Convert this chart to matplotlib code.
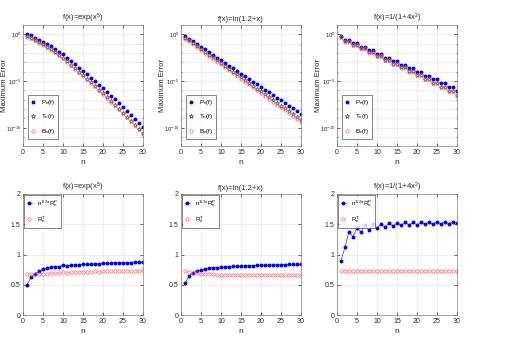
import numpy as np
import matplotlib
matplotlib.use('Agg')
import matplotlib.pyplot as plt
from matplotlib.ticker import FixedLocator, NullFormatter

plt.rcParams['font.family'] = ['Liberation Sans', 'DejaVu Sans']
plt.rcParams['mathtext.default'] = 'regular'
plt.rcParams['font.size'] = 5.5

n = np.arange(1, 31)

# top row: log10 of maximum error
exp_P = [0.02, -0.12, -0.35, -0.57, -0.80, -1.05, -1.30, -1.55, -1.85, -2.15,
         -2.50, -2.85, -3.20, -3.56, -3.92, -4.28, -4.65, -5.02, -5.40, -5.78,
         -6.17, -6.57, -6.97, -7.37, -7.78, -8.19, -8.60, -9.02, -9.44, -9.87]
exp_T = [-0.18, -0.34, -0.58, -0.82, -1.07, -1.34, -1.60, -1.87, -2.19, -2.51,
         -2.87, -3.24, -3.61, -3.98, -4.36, -4.74, -5.13, -5.51, -5.91, -6.31,
         -6.71, -7.13, -7.55, -7.97, -8.39, -8.82, -9.25, -9.68, -10.12, -10.57]
exp_B = [-0.26, -0.41, -0.64, -0.88, -1.13, -1.40, -1.66, -1.93, -2.25, -2.57,
         -2.93, -3.30, -3.67, -4.04, -4.42, -4.80, -5.19, -5.57, -5.97, -6.37,
         -6.77, -7.19, -7.61, -8.03, -8.45, -8.88, -9.31, -9.74, -10.18, -10.63]

ln_P = [-0.18, -0.47, -0.75, -1.04, -1.33, -1.62, -1.90, -2.19, -2.48, -2.76,
        -3.05, -3.34, -3.62, -3.91, -4.20, -4.49, -4.77, -5.06, -5.35, -5.63,
        -5.92, -6.21, -6.49, -6.78, -7.07, -7.36, -7.64, -7.93, -8.22, -8.50]
ln_T = [-0.35, -0.65, -0.96, -1.26, -1.56, -1.87, -2.17, -2.47, -2.78, -3.08,
        -3.38, -3.69, -3.99, -4.29, -4.60, -4.90, -5.20, -5.51, -5.81, -6.11,
        -6.42, -6.72, -7.02, -7.33, -7.63, -7.93, -8.24, -8.54, -8.84, -9.15]
ln_B = [-0.45, -0.76, -1.06, -1.37, -1.68, -1.99, -2.29, -2.60, -2.91, -3.21,
        -3.52, -3.83, -4.13, -4.44, -4.75, -5.06, -5.36, -5.67, -5.98, -6.28,
        -6.59, -6.90, -7.20, -7.51, -7.82, -8.13, -8.43, -8.74, -9.05, -9.35]

ru_P = [-0.14, -0.57, -0.57, -0.96, -0.96, -1.34, -1.34, -1.72, -1.72, -2.10,
        -2.10, -2.49, -2.49, -2.87, -2.87, -3.26, -3.26, -3.64, -3.64, -4.03,
        -4.03, -4.42, -4.42, -4.82, -4.82, -5.22, -5.22, -5.62, -5.62, -6.05]
ru_T = [-0.25, -0.71, -0.71, -1.12, -1.12, -1.51, -1.51, -1.91, -1.91, -2.31,
        -2.31, -2.72, -2.72, -3.12, -3.12, -3.53, -3.53, -3.93, -3.93, -4.34,
        -4.34, -4.75, -4.75, -5.17, -5.17, -5.59, -5.59, -6.01, -6.01, -6.50]
ru_B = [-0.30, -0.77, -0.77, -1.18, -1.18, -1.57, -1.57, -1.97, -1.97, -2.37,
        -2.37, -2.78, -2.78, -3.18, -3.18, -3.59, -3.59, -3.99, -3.99, -4.40,
        -4.40, -4.81, -4.81, -5.23, -5.23, -5.65, -5.65, -6.07, -6.07, -6.58]

# bottom row: ratios
exp_RP = [0.50, 0.62, 0.68, 0.72, 0.76, 0.77, 0.79, 0.80, 0.80, 0.82,
          0.815, 0.82, 0.83, 0.826, 0.84, 0.838, 0.84, 0.85, 0.845, 0.855,
          0.853, 0.855, 0.865, 0.86, 0.865, 0.865, 0.866, 0.875, 0.87, 0.872]
exp_RT = [0.68, 0.675, 0.68, 0.68, 0.685, 0.685, 0.69, 0.69, 0.695, 0.71,
          0.70, 0.705, 0.71, 0.71, 0.715, 0.71, 0.715, 0.72, 0.715, 0.72,
          0.72, 0.725, 0.72, 0.725, 0.725, 0.725, 0.73, 0.735, 0.735, 0.74]
ln_RP = [0.53, 0.64, 0.70, 0.725, 0.74, 0.76, 0.77, 0.78, 0.785, 0.79,
         0.795, 0.80, 0.803, 0.806, 0.81, 0.812, 0.815, 0.818, 0.82, 0.822,
         0.824, 0.826, 0.828, 0.83, 0.832, 0.834, 0.835, 0.837, 0.838, 0.84]
ln_RT = [0.73, 0.715, 0.70, 0.69, 0.68, 0.675, 0.672, 0.67, 0.668, 0.667,
         0.666, 0.665, 0.664, 0.663, 0.662, 0.662, 0.661, 0.66, 0.66, 0.659,
         0.659, 0.658, 0.658, 0.657, 0.657, 0.656, 0.656, 0.656, 0.655, 0.655]
ru_RP = [0.90, 1.12, 1.38, 1.29, 1.44, 1.37, 1.48, 1.40, 1.50, 1.43,
         1.51, 1.45, 1.52, 1.47, 1.52, 1.48, 1.53, 1.49, 1.53, 1.49,
         1.53, 1.50, 1.53, 1.51, 1.54, 1.51, 1.54, 1.51, 1.54, 1.52]
ru_RT = [0.73] * 30

titles = ['f(x)=exp(x$^5$)', 'f(x)=ln(1.2+x)', 'f(x)=1/(1+4x$^2$)']
top_data = [(exp_P, exp_T, exp_B), (ln_P, ln_T, ln_B), (ru_P, ru_T, ru_B)]
bot_data = [(exp_RP, exp_RT), (ln_RP, ln_RT), (ru_RP, ru_RT)]

W, H = 510, 354
lefts = [23, 181, 337]
aw = 120
top_row = (25, 146.5)
bot_row = (194, 315)

fig = plt.figure(figsize=(W / 100, H / 100), dpi=100)

frame_col = '#262626'
grid_col = '#e6e6e6'
red = '#ff6060'


def style(ax):
    ax.tick_params(direction='in', length=2, width=0.5, top=True, right=True,
                   labelsize=5, pad=2, colors=frame_col, which='both')
    for s in ax.spines.values():
        s.set_linewidth(0.5)
        s.set_color('#808080')
    ax.set_xlim(0, 30)
    ax.set_xticks([0, 5, 10, 15, 20, 25, 30])
    ax.set_xlabel('n', fontsize=6, labelpad=2, color=frame_col)
    ax.set_axisbelow(True)


def legend(ax, loc, anchor):
    leg = ax.legend(loc=loc, fontsize=4.5, handlelength=0.8, handletextpad=0.8,
                    labelspacing=0.9, borderpad=0.5, borderaxespad=0,
                    fancybox=False, bbox_to_anchor=anchor)
    leg.get_frame().set_edgecolor('#262626')
    leg.get_frame().set_linewidth(0.5)


for i in range(3):
    # top row
    t, b = top_row
    ax = fig.add_axes([lefts[i] / W, 1 - b / H, aw / W, (b - t) / H])
    P, T, B = (10.0 ** np.array(v) for v in top_data[i])
    ax.semilogy(n, P, '.', color='#0000ff', ms=3.6, label='P$_n$(f)')
    ax.semilogy(n, T, '*', mfc='none', mec='#505050', ms=3.4, mew=0.5, label='T$_n$(f)')
    ax.semilogy(n, B, 'o', mfc='none', mec=red, ms=2.4, mew=0.5, label='B$_n$(f)')
    ax.set_ylim(1e-12, 1e1)
    ax.set_yticks([1e-10, 1e-5, 1e0])
    ax.yaxis.set_minor_locator(FixedLocator([10.0 ** k for k in range(-12, 2)]))
    ax.yaxis.set_minor_formatter(NullFormatter())
    ax.grid(True, which='both', color=grid_col, lw=0.5)
    style(ax)
    ax.tick_params(axis='y', labelsize=4.3, pad=1)
    ax.tick_params(which='minor', length=1)
    ax.set_title(titles[i], fontsize=5.5, pad=3, color=frame_col)
    ax.set_ylabel('Maximum Error', fontsize=5.6, color=frame_col)
    ax.yaxis.set_label_coords(-0.125, 0.5)
    legend(ax, 'lower left', (0.04, 0.06))

    # bottom row
    t, b = bot_row
    ax = fig.add_axes([lefts[i] / W, 1 - b / H, aw / W, (b - t) / H])
    RP, RT = bot_data[i]
    ax.plot(n, RP, '.-', color='#0000ff', ms=3.6, lw=0.4, label='$n^{1/2}{*}R_n^P$')
    ax.plot(n, RT, 'o', mfc='none', mec=red, ms=2.4, mew=0.5, label='$R_n^T$')
    ax.set_ylim(0, 2)
    ax.set_yticks([0, 0.5, 1, 1.5, 2])
    ax.set_yticklabels(['0', '0.5', '1', '1.5', '2'])
    ax.grid(True, color=grid_col, lw=0.5)
    style(ax)
    ax.set_title(titles[i], fontsize=5.5, pad=3, color=frame_col)
    legend(ax, 'upper left', (0.005, 0.995))

fig.savefig('out.png', dpi=100)
